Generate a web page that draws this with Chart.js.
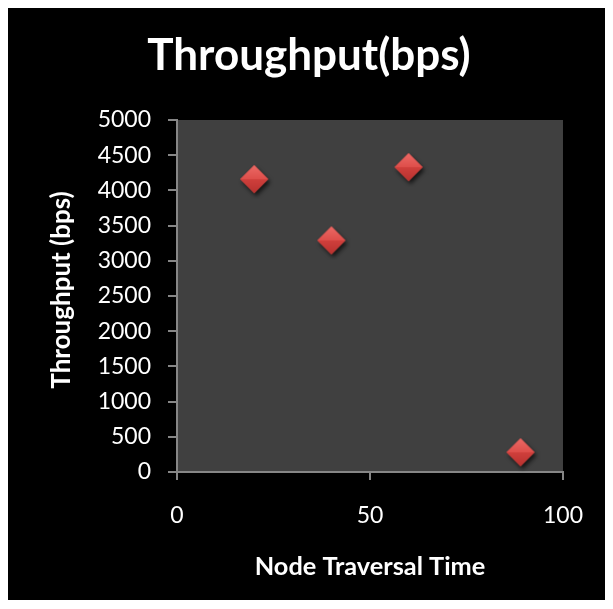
<!DOCTYPE html>
<html>
<head>
<meta charset="utf-8">
<script src="https://cdn.jsdelivr.net/npm/chart.js@4"></script>
<style>
  html, body { margin:0; padding:0; background:#fff; }
  #frame { position:absolute; left:8px; top:8px; width:597px; height:592px; background:#000; }
  canvas { display:block; }
</style>
</head>
<body>
<div id="frame"><canvas id="chart" width="597" height="592"></canvas></div>
<script>
/* Throughput vs node traversal time, scatter */
const traversalTime = [20, 40, 60, 89];
const throughput = [4160, 3290, 4330, 280];
const yTicks = [0, 500, 1000, 1500, 2000, 2500, 3000, 3500, 4000, 4500, 5000];
const xTicks = [0, 50, 100];
const chartTitle = 'Throughput(bps)';
const yTitle = 'Throughput (bps)';
const xTitle = 'Node Traversal Time';

const AXIS = '#868686';

// red "pyramid" diamond marker
function makeMarker(r){
  const c = document.createElement('canvas');
  const s = r*2 + 12;
  c.width = s; c.height = s;
  const g = c.getContext('2d');
  const cx = s/2, cy = s/2;
  g.save();
  g.shadowColor = 'rgba(0,0,0,0.7)'; g.shadowBlur = 4; g.shadowOffsetX = 2; g.shadowOffsetY = 3;
  g.beginPath();
  g.moveTo(cx - r, cy); g.lineTo(cx, cy - r); g.lineTo(cx + r, cy); g.lineTo(cx, cy + r); g.closePath();
  g.fillStyle = '#d4433f'; g.fill();
  g.restore();
  // top half lighter
  g.beginPath(); g.moveTo(cx - r, cy); g.lineTo(cx, cy - r); g.lineTo(cx + r, cy); g.closePath();
  const gt = g.createLinearGradient(0, cy - r, 0, cy);
  gt.addColorStop(0, '#ec6a66'); gt.addColorStop(1, '#de4e4a');
  g.fillStyle = gt; g.fill();
  // bottom half darker
  g.beginPath(); g.moveTo(cx - r, cy); g.lineTo(cx + r, cy); g.lineTo(cx, cy + r); g.closePath();
  const gb = g.createLinearGradient(0, cy, 0, cy + r);
  gb.addColorStop(0, '#d0403c'); gb.addColorStop(1, '#b8322f');
  g.fillStyle = gb; g.fill();
  return c;
}

const plotBg = {
  id: 'plotBg',
  beforeDraw(chart){
    const {ctx, chartArea:a} = chart;
    ctx.save(); ctx.fillStyle = '#404040';
    ctx.fillRect(a.left, a.top, a.right - a.left, a.bottom - a.top);
    ctx.restore();
  }
};

// chart title + y axis title, placed like the original
const titles = {
  id: 'titles',
  afterDraw(chart){
    const {ctx} = chart;
    ctx.save();
    ctx.fillStyle = '#fff';
    ctx.textAlign = 'center';
    ctx.textBaseline = 'alphabetic';
    ctx.font = "bold 44px Lato";
    ctx.fillText(chartTitle, 301, 62);
    ctx.translate(54, 282);
    ctx.rotate(-Math.PI/2);
    ctx.textBaseline = 'middle';
    ctx.font = "bold 26px Lato";
    ctx.fillText(yTitle, 0, 0);
    ctx.restore();
  }
};

new Chart(document.getElementById('chart'), {
  type: 'scatter',
  data: {
    datasets: [{
      label: chartTitle,
      data: traversalTime.map((x, i) => ({ x, y: throughput[i] })),
      pointStyle: makeMarker(14)
    }]
  },
  options: {
    responsive: false,
    animation: false,
    layout: { padding: { top: 112, right: 42, left: 0, bottom: 0 } },
    plugins: {
      legend: { display: false },
      tooltip: { enabled: false },
      title: { display: false }
    },
    scales: {
      x: {
        type: 'linear', min: 0, max: 100,
        afterBuildTicks: s => { s.ticks = xTicks.map(v => ({ value: v })); },
        afterFit: s => { s.height = 128; },
        grid: { display: true, drawOnChartArea: false, drawTicks: true, tickLength: 8, color: AXIS, lineWidth: 2 },
        border: { display: true, color: AXIS, width: 2 },
        ticks: { color: '#fff', padding: 22, maxRotation: 0, font: { family: 'Lato', size: 23 }, callback: v => String(v) },
        title: { display: true, text: xTitle, color: '#fff',
          font: { family: 'Lato', size: 25.3, weight: 'bold', lineHeight: 1 }, padding: { top: 0, bottom: 21 } }
      },
      y: {
        type: 'linear', min: 0, max: 5000,
        afterBuildTicks: s => { s.ticks = yTicks.map(v => ({ value: v })); },
        afterFit: s => { s.width = 169; },
        grid: { display: true, drawOnChartArea: false, drawTicks: true, tickLength: 9, color: AXIS, lineWidth: 2 },
        border: { display: true, color: AXIS, width: 2 },
        ticks: { color: '#fff', padding: 17, font: { family: 'Lato', size: 23 }, callback: v => String(v) }
      }
    }
  },
  plugins: [plotBg, titles]
});
</script>
</body>
</html>
